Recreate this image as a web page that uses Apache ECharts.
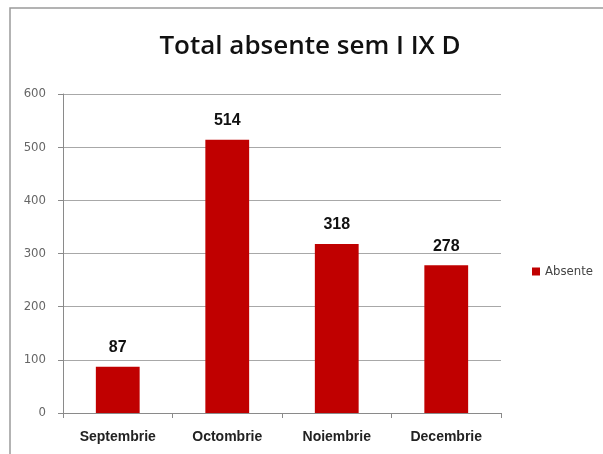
<!DOCTYPE html>
<html>
<head>
<meta charset="utf-8">
<script src="https://cdn.jsdelivr.net/npm/echarts@6/dist/echarts.min.js"></script>
<style>
html, body { margin: 0; padding: 0; background: #fff; }
#chart { width: 603px; height: 454px; }
</style>
</head>
<body>
<div id="chart"></div>
<script>
var categories = ['Septembrie', 'Octombrie', 'Noiembrie', 'Decembrie'];
var absente = [87, 514, 318, 278];
var yTicks = [0, 100, 200, 300, 400, 500, 600];

var myChart = echarts.init(document.getElementById('chart'));
myChart.setOption({
    animation: false,
    backgroundColor: '#fff',
    graphic: [{
        type: 'rect',
        shape: { x: 10, y: 8, width: 620, height: 470 },
        style: { fill: 'none', stroke: '#9a9a9a', lineWidth: 1.5 }
    }],
    title: {
        text: 'Total absente sem I IX D',
        left: 305,
        top: 29,
        textAlign: 'center',
        textStyle: { fontFamily: 'Open Sans', fontSize: 26, fontWeight: 600, color: '#111' }
    },
    legend: {
        data: ['Absente'],
        orient: 'vertical',
        left: 527,
        top: 260,
        itemWidth: 8,
        itemHeight: 8,
        itemGap: 4,
        icon: 'rect',
        textStyle: { fontFamily: 'DejaVu Sans Condensed', fontSize: 13, color: '#444' }
    },
    grid: { left: 63, right: 102, top: 94, bottom: 41, containLabel: false },
    xAxis: {
        type: 'category',
        data: categories,
        axisLine: { lineStyle: { color: '#8a8a8a' } },
        axisTick: { show: true, alignWithLabel: false, length: 5, lineStyle: { color: '#8a8a8a' } },
        axisLabel: { fontFamily: 'Liberation Sans', fontSize: 14, fontWeight: 'bold', color: '#222', margin: 17 }
    },
    yAxis: {
        type: 'value',
        min: yTicks[0],
        max: yTicks[yTicks.length - 1],
        interval: 100,
        axisLine: { show: true, lineStyle: { color: '#8a8a8a' } },
        axisTick: { show: true, length: 5, lineStyle: { color: '#8a8a8a' } },
        axisLabel: { fontFamily: 'DejaVu Sans Condensed', fontSize: 13, color: '#666', margin: 17 },
        splitLine: { lineStyle: { color: '#a8a8a8' } }
    },
    series: [{
        name: 'Absente',
        type: 'bar',
        data: absente,
        barWidth: '40%',
        itemStyle: { color: '#c00000' },
        label: {
            show: true,
            position: 'top',
            distance: 11,
            fontFamily: 'Liberation Sans',
            fontSize: 16,
            fontWeight: 'bold',
            color: '#111'
        }
    }]
});
</script>
</body>
</html>
